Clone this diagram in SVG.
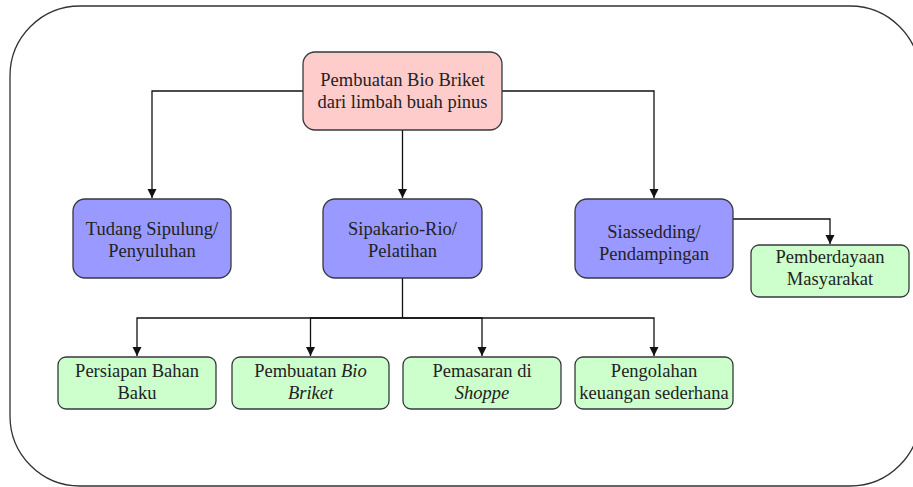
<svg xmlns="http://www.w3.org/2000/svg" width="913" height="487" viewBox="0 0 913 487">
<style>
.box{stroke:#36393d;stroke-width:1.3}
.pink{fill:#ffcccc}
.blue{fill:#9999ff}
.green{fill:#ccffcc}
.t{font-family:'Liberation Serif','Times New Roman','DejaVu Serif',serif;font-size:18.5px;fill:#222;text-anchor:middle}
.it{font-style:italic}
.c{fill:none;stroke:#111;stroke-width:1.3}
</style>
<defs>
<marker id="arr" markerWidth="10" markerHeight="10" refX="9" refY="5" orient="auto" markerUnits="userSpaceOnUse">
<path d="M0,0.5 L9,5 L0,9.5 Z" fill="#111"/>
</marker>
</defs>
<rect x="10" y="6" width="910" height="480" rx="70" ry="70" fill="#fff" stroke="#333" stroke-width="1.3"/>
<g id="connectors">
<path class="c" d="M303,91 H152 V198" marker-end="url(#arr)"/>
<path class="c" d="M402.5,130 V198" marker-end="url(#arr)"/>
<path class="c" d="M502,91 H654 V198" marker-end="url(#arr)"/>
<path class="c" d="M733,219 H830 V244" marker-end="url(#arr)"/>
<path class="c" d="M402.5,278 V318 H137 V356" marker-end="url(#arr)"/>
<path class="c" d="M402.5,318 H310.5 V356" marker-end="url(#arr)"/>
<path class="c" d="M402.5,318 H482 V356" marker-end="url(#arr)"/>
<path class="c" d="M402.5,318 H654 V356" marker-end="url(#arr)"/>
</g>
<g id="n-main">
<rect class="box pink" x="303" y="52" width="199" height="78" rx="12"/>
<text class="t" x="402.5" y="86">Pembuatan Bio Briket</text>
<text class="t" x="402.5" y="108">dari limbah buah pinus</text>
</g>
<g id="n-tudang">
<rect class="box blue" x="73" y="199" width="158" height="79" rx="12"/>
<text class="t" x="152" y="235">Tudang Sipulung/</text>
<text class="t" x="152" y="257">Penyuluhan</text>
</g>
<g id="n-sipakario">
<rect class="box blue" x="323" y="199" width="159" height="79" rx="12"/>
<text class="t" x="402.5" y="235">Sipakario-Rio/</text>
<text class="t" x="402.5" y="257">Pelatihan</text>
</g>
<g id="n-siassedding">
<rect class="box blue" x="575" y="199" width="158" height="79" rx="12"/>
<text class="t" x="654" y="238">Siassedding/</text>
<text class="t" x="654" y="260">Pendampingan</text>
</g>
<g id="n-pemberdayaan">
<rect class="box green" x="751" y="245" width="158" height="52" rx="8"/>
<text class="t" x="830" y="263">Pemberdayaan</text>
<text class="t" x="830" y="285">Masyarakat</text>
</g>
<g id="n-persiapan">
<rect class="box green" x="58" y="357" width="158" height="52" rx="8"/>
<text class="t" x="137" y="377">Persiapan Bahan</text>
<text class="t" x="137" y="399">Baku</text>
</g>
<g id="n-pembuatan">
<rect class="box green" x="232" y="357" width="157" height="52" rx="8"/>
<text class="t" x="310.5" y="377">Pembuatan <tspan class="it">Bio</tspan></text>
<text class="t it" x="310.5" y="399">Briket</text>
</g>
<g id="n-pemasaran">
<rect class="box green" x="403" y="357" width="158" height="52" rx="8"/>
<text class="t" x="482" y="377">Pemasaran di</text>
<text class="t it" x="482" y="399">Shoppe</text>
</g>
<g id="n-pengolahan">
<rect class="box green" x="575" y="357" width="158" height="52" rx="8"/>
<text class="t" x="654" y="377">Pengolahan</text>
<text class="t" x="654" y="399">keuangan sederhana</text>
</g>
</svg>
